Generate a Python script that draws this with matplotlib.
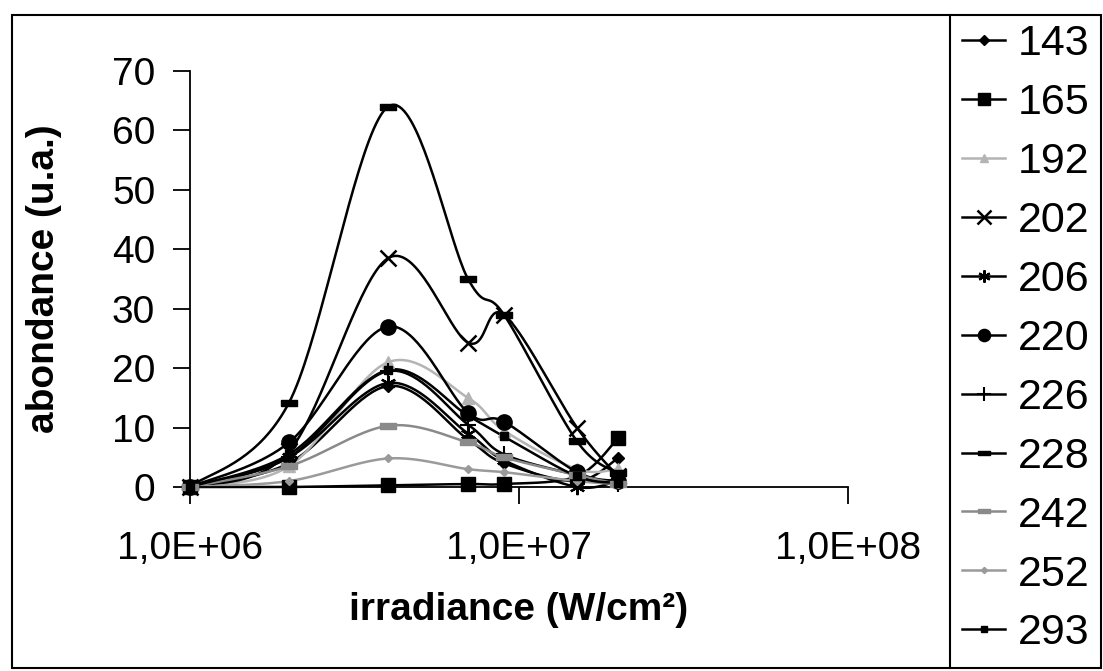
import numpy as np
import matplotlib
matplotlib.use("Agg")
import matplotlib.pyplot as plt
from matplotlib.patches import Rectangle
from matplotlib.lines import Line2D

plt.rcParams['font.family'] = ['Liberation Sans', 'DejaVu Sans']

# irradiance values (W/cm2)
irradiance = [1e6, 2e6, 4e6, 7e6, 9e6, 1.5e7, 2e7]

# abondance of each mass
s143 = [0, 4.0, 17.0, 8.0, 4.0, 1.0, 4.9]
s165 = [0, 0.0, 0.3, 0.5, 0.5, 1.8, 8.2]
s192 = [0, 3.5, 21.0, 15.0, 9.5, 3.0, 3.0]
s202 = [0, 6.0, 38.5, 24.3, 29.0, 10.0, 1.8]
s206 = [0, 5.0, 17.5, 9.0, 4.5, 0.0, 1.0]
s220 = [0, 7.5, 27.0, 12.5, 11.0, 2.5, 1.0]
s226 = [0, 5.0, 19.5, 10.5, 5.5, 2.0, 0.5]
s228 = [0, 14.2, 64.0, 35.0, 29.0, 7.7, 2.3]
s242 = [0, 3.5, 10.3, 7.5, 5.0, 2.0, 0.5]
s252 = [0, 1.0, 4.8, 3.0, 2.5, 1.0, 0.5]
s293 = [0, 5.5, 19.7, 12.0, 8.5, 1.8, 0.7]

names = ['143', '165', '192', '202', '206', '220', '226', '228', '242', '252', '293']
series = [s143, s165, s192, s202, s206, s220, s226, s228, s242, s252, s293]

xtick_vals = [1e6, 1e7, 1e8]
xtick_labels = ['1,0E+06', '1,0E+07', '1,0E+08']
ytick_vals = [0, 10, 20, 30, 40, 50, 60, 70]

dash = [(-1, -0.4), (1, -0.4), (1, 0.4), (-1, 0.4), (-1, -0.4)]
styles = {
    '143': dict(color='black', marker='D', ms=6),
    '165': dict(color='black', marker='s', ms=10),
    '192': dict(color='#b4b4b4', marker='^', ms=8),
    '202': dict(color='black', marker='x', ms=12, mew=1.8),
    '206': dict(color='black', marker=(6, 2, 0), ms=11, mew=1.6),
    '220': dict(color='black', marker='o', ms=11),
    '226': dict(color='black', marker='+', ms=12, mew=1.5),
    '228': dict(color='black', marker=dash, ms=11),
    '242': dict(color='#8a8a8a', marker=dash, ms=11),
    '252': dict(color='#9a9a9a', marker='D', ms=4),
    '293': dict(color='black', marker='s', ms=6),
}


def smooth(xs, ys, n=40):
    # Catmull-Rom style smoothing like Excel's "smoothed line", in log-x space
    u = np.log10(xs)
    v = np.asarray(ys, dtype=float)
    pu = np.concatenate([[u[0]], u, [u[-1]]])
    pv = np.concatenate([[v[0]], v, [v[-1]]])
    out_u, out_v = [], []
    t = np.linspace(0, 1, n)
    for i in range(1, len(pu) - 2):
        p0, p1, p2, p3 = i - 1, i, i + 1, i + 2
        for arr, out in ((pu, out_u), (pv, out_v)):
            b0 = arr[p1]
            b1 = arr[p1] + (arr[p2] - arr[p0]) / 6
            b2 = arr[p2] - (arr[p3] - arr[p1]) / 6
            b3 = arr[p2]
            seg = ((1 - t) ** 3 * b0 + 3 * (1 - t) ** 2 * t * b1
                   + 3 * (1 - t) * t ** 2 * b2 + t ** 3 * b3)
            out.extend(seg)
    return 10 ** np.array(out_u), np.array(out_v)


fig = plt.figure(figsize=(11.03, 6.71), dpi=100)
ax = fig.add_axes([190 / 1103, 1 - 487 / 671, 658 / 1103, 416 / 671])

handles = []
for name, ys in zip(names, series):
    st = styles[name]
    sx, sy = smooth(irradiance, ys)
    ax.plot(sx, sy, color=st['color'], lw=1.8, clip_on=False, zorder=2)
    ax.plot(irradiance, ys, ls='none', marker=st['marker'], ms=st['ms'],
            color=st['color'], mew=st.get('mew', 1), clip_on=False, zorder=3)
    handles.append(Line2D([], [], color=st['color'], lw=1.8, marker=st['marker'],
                          ms=st['ms'] * 0.8, mew=st.get('mew', 1)))

ax.set_xscale('log')
ax.set_xlim(1e6, 1e8)
ax.set_ylim(0, 70)
ax.set_xticks(xtick_vals, labels=xtick_labels)
ax.set_yticks(ytick_vals)
ax.minorticks_off()
ax.tick_params(axis='both', direction='out', length=12, width=1.3, labelsize=28)
ax.tick_params(axis='y', pad=13)
ax.tick_params(axis='x', pad=20)
for side in ['top', 'right']:
    ax.spines[side].set_visible(False)
for side in ['left', 'bottom']:
    ax.spines[side].set_linewidth(1.3)

ax.set_xlabel('irradiance (W/cm²)', fontsize=28, fontweight='bold', labelpad=18)
ax.set_ylabel('abondance (u.a.)', fontsize=28, fontweight='bold', labelpad=36)

# chart border and legend box
fig.patches.append(Rectangle((12 / 1103, 3 / 671), 1089 / 1103, 653 / 671,
                             transform=fig.transFigure, fill=False, lw=1.5,
                             edgecolor='black'))
fig.lines.append(Line2D([950 / 1103, 950 / 1103], [3 / 671, 656 / 671],
                        transform=fig.transFigure, color='black', lw=1.5))

fig.legend(handles, names, loc='upper left',
           bbox_to_anchor=(962 / 1103, 1 - 24 / 671), frameon=False,
           fontsize=31, handlelength=1.0, handletextpad=0.3,
           labelspacing=0.44, borderaxespad=0, borderpad=0)

fig.savefig('out.png', dpi=100)
